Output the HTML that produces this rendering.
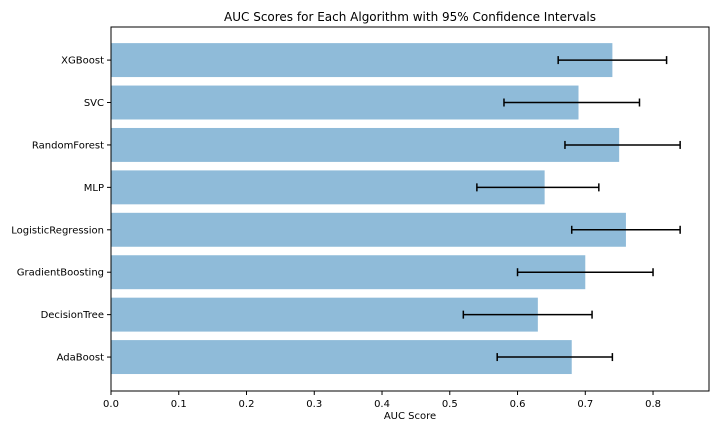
<!DOCTYPE html>
<html><head><meta charset="utf-8"><style>
body{margin:0;background:#fff;font-family:"DejaVu Sans",sans-serif;}
svg text{font-family:"DejaVu Sans",sans-serif;fill:#000;}
</style></head><body>
<svg id="chart" width="720" height="432" viewBox="0 0 720 432">
<text x="410" y="21" font-size="12" text-anchor="middle">AUC Scores for Each Algorithm with 95% Confidence Intervals</text>
<g id="bars"></g>
<g id="errs"></g>
<rect x="111" y="27" width="598" height="364" fill="none" stroke="#000" stroke-width="1"/>
<g id="xaxis"></g>
<g id="yaxis"></g>
<text x="410" y="419" font-size="10" text-anchor="middle">AUC Score</text>
</svg>
<script>
const categories=["AdaBoost","DecisionTree","GradientBoosting","LogisticRegression","MLP","RandomForest","SVC","XGBoost"];
const scores=[0.68,0.63,0.70,0.76,0.64,0.75,0.69,0.74];
const ciLow=[0.57,0.52,0.60,0.68,0.54,0.67,0.58,0.66];
const ciHigh=[0.74,0.71,0.80,0.84,0.72,0.84,0.78,0.82];
const xTicks=[0,0.1,0.2,0.3,0.4,0.5,0.6,0.7,0.8];
const xTickLabels=["0.0","0.1","0.2","0.3","0.4","0.5","0.6","0.7","0.8"];
const NS="http://www.w3.org/2000/svg";
const L=111,R=709,T=27,B=391,xMax=0.8826,yMin=-0.8,yMax=7.78;
const x=v=>L+v/xMax*(R-L);
const y=i=>B-(i-yMin)/(yMax-yMin)*(B-T);
const bh=0.8*(B-T)/(yMax-yMin);
function mk(tag,at,parent){const e=document.createElementNS(NS,tag);for(const k in at)e.setAttribute(k,at[k]);parent.appendChild(e);return e;}
const gb=document.getElementById('bars'),ge=document.getElementById('errs'),gx=document.getElementById('xaxis'),gy=document.getElementById('yaxis');
categories.forEach((c,i)=>{
 const cy=y(i);
 const r=mk('rect',{x:x(0),y:cy-bh/2,width:x(scores[i])-x(0),height:bh,fill:'#8fbbd9'},gb);
 
 
 const g=mk('g',{stroke:'#000','stroke-width':1.5},ge);
 
 
 mk('line',{x1:x(ciLow[i]),x2:x(ciHigh[i]),y1:cy,y2:cy},g);
 mk('line',{x1:x(ciLow[i]),x2:x(ciLow[i]),y1:cy-4,y2:cy+4},g);
 mk('line',{x1:x(ciHigh[i]),x2:x(ciHigh[i]),y1:cy-4,y2:cy+4},g);
 mk('line',{x1:L-4,x2:L,y1:cy,y2:cy,stroke:'#000'},gy);
 const t=mk('text',{x:L-7,y:cy+3.5,'font-size':10,'text-anchor':'end'},gy);
 t.textContent=c;
 
 
});
xTicks.forEach((v,i)=>{
 mk('line',{x1:x(v),x2:x(v),y1:B,y2:B+4,stroke:'#000'},gx);
 const t=mk('text',{x:x(v),y:B+16,'font-size':10,'text-anchor':'middle'},gx);
 t.textContent=xTickLabels[i];
 
 
});
</script>
</body></html>
